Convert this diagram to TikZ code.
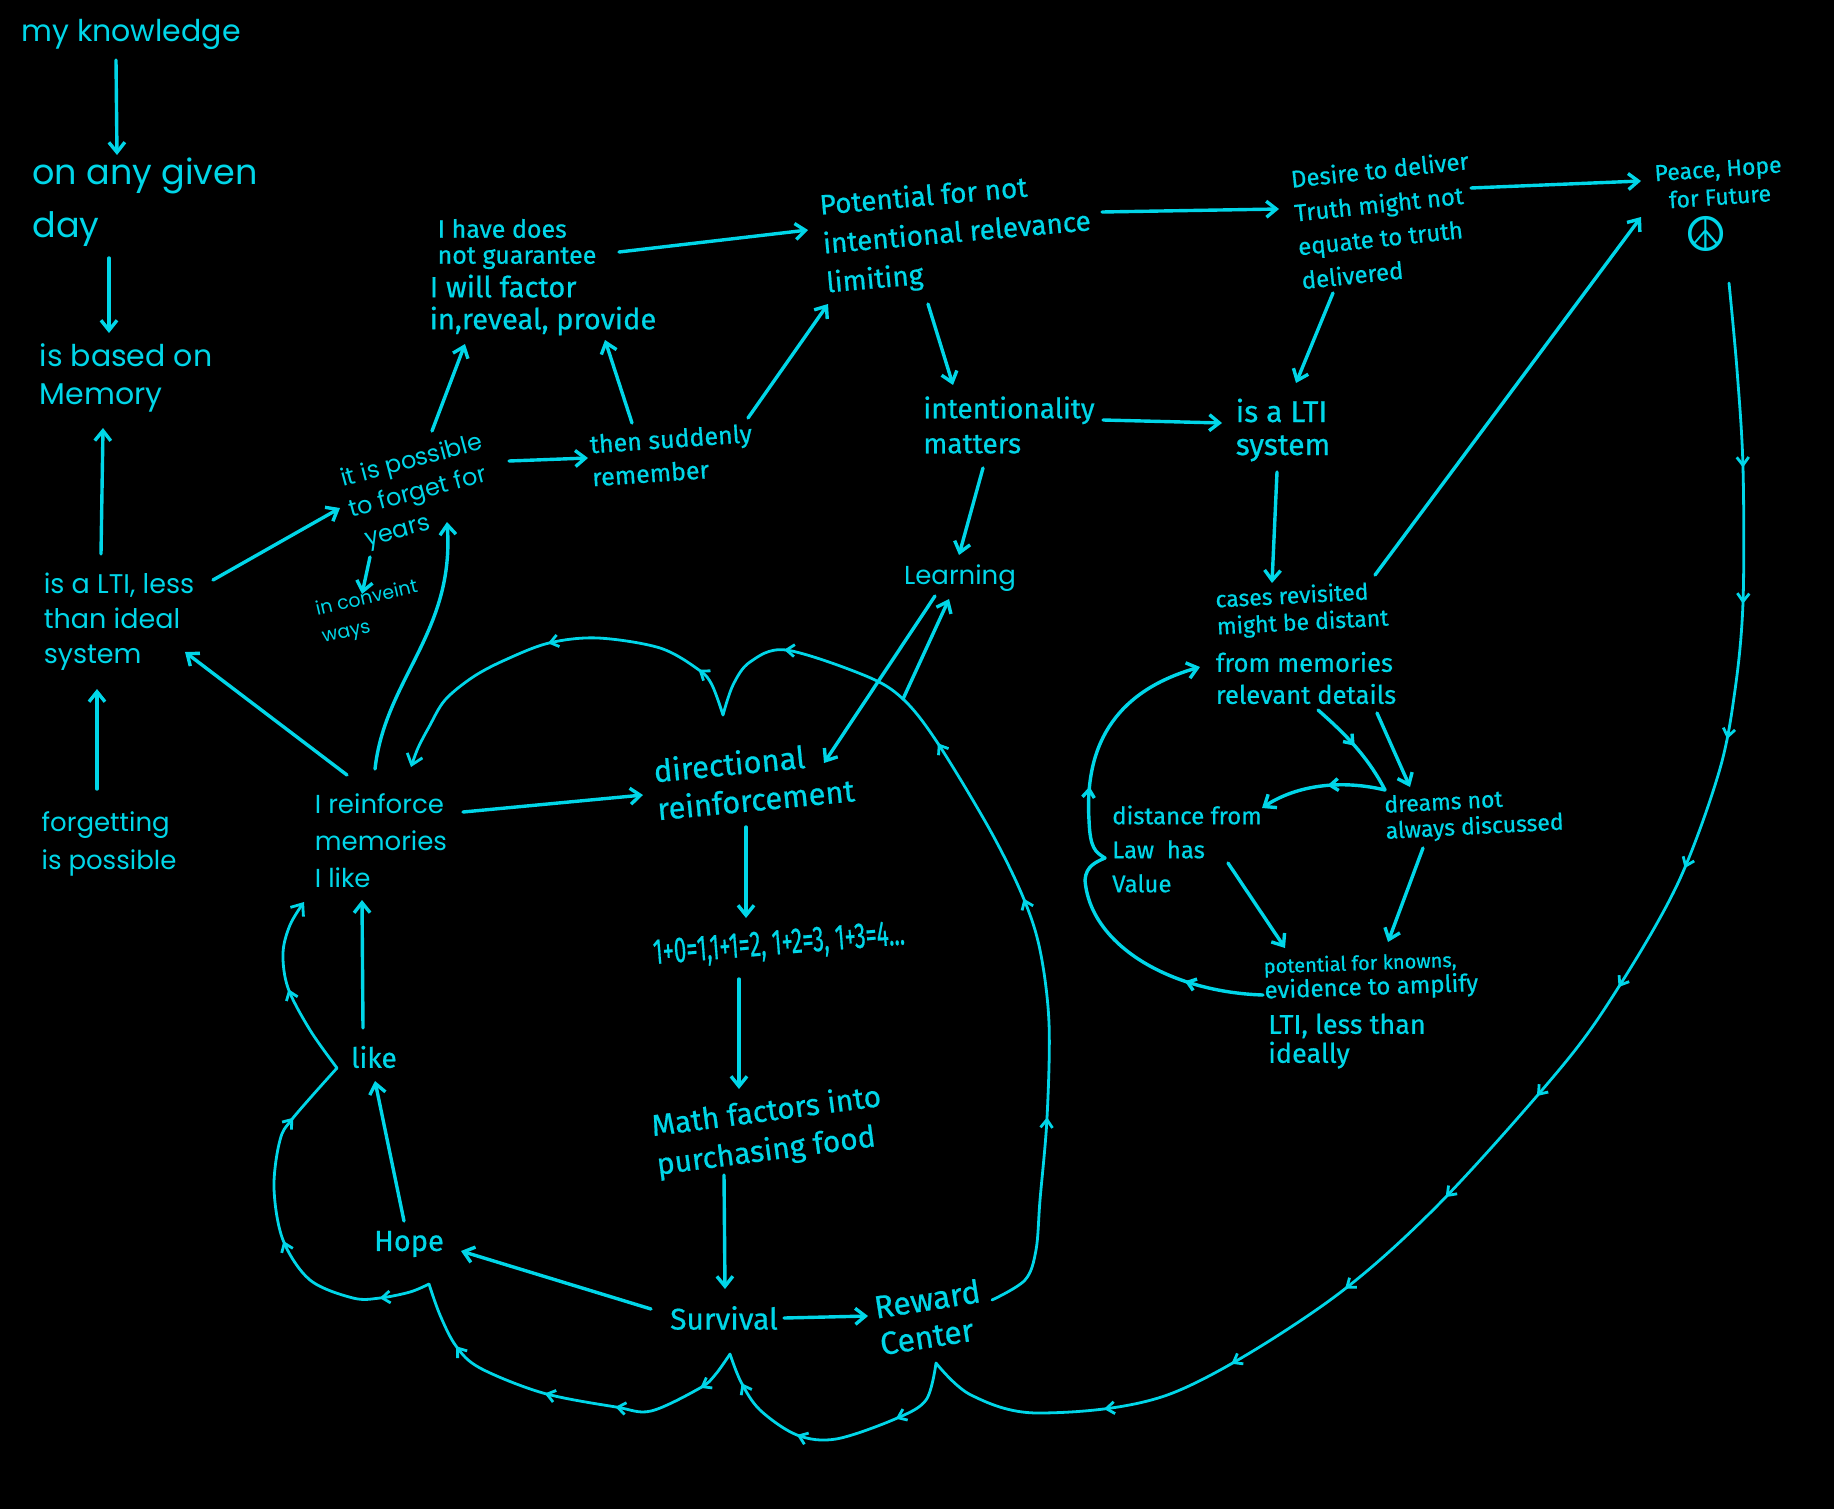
\documentclass[tikz,border=0pt]{standalone}
\usepackage{fontspec}
\setmainfont{Fira Sans}[FakeBold=0.6]
\newfontfamily\pop{Poppins}
\newfontfamily\dejavu{DejaVu Sans}
\usepackage{graphicx}
\usetikzlibrary{arrows.meta,decorations.markings}
\definecolor{cy}{RGB}{0,214,232}
\begin{document}
\begin{tikzpicture}[x=0.5pt,y=-0.5pt,
  tx/.style={text=cy, inner sep=0pt, align=left},
  fs/.style 2 args={font=\fontsize{#1}{#2}\selectfont},
  pf/.style 2 args={font=\pop\fontsize{#1}{#2}\selectfont},
  ln/.style={draw=cy, line width=1.7pt, line cap=round, line join=round, -{Straight Barb[length=5pt,width=8pt]}},
  cloudln/.style={draw=cy, line width=1.4pt, line cap=round, line join=round},
  tipend/.style={-{Straight Barb[length=5pt,width=8pt]}},
  ctip/.tip={Straight Barb[length=4pt,width=6pt]},
  mk/.style={postaction={decorate, decoration={markings, mark=at position #1 with {\arrow{ctip}}}}},
  mks/.style={postaction={decorate, decoration={markings, mark=between positions #1 with {\arrow{ctip}}}}}
]
\fill[black] (0,0) rectangle (1834,1509);
\useasboundingbox (0,0) rectangle (1834,1509);

% ---------- nodes ----------
\node[tx, pf={15}{18}] (know) at (131,34) {my knowledge};
\node[tx, pf={17.5}{26.5}] (day) at (145,202) {on any given\\day};
\node[tx, pf={15}{19}] (mem) at (126,378) {is based on\\Memory};
\node[tx, pf={13.5}{17.5}] (lti) at (119,622) {is a LTI, less\\than ideal\\system};
\node[tx, pf={13}{19}] (forg) at (109,844) {forgetting\\is possible};
\node[tx, pf={12}{16}, rotate=15] (itposs) at (420,493) {it is possible\\to forget for\\\hspace*{4pt}years};
\node[tx, pf={9.5}{14}, rotate=13] (conv) at (370,613) {in conveint\\ways};
\node[tx, pf={13}{18.5}] (reinf) at (381,841) {I reinforce\\memories\\I like};
\node[tx, pf={13}{15}] (learn) at (960,578) {Learning};

\node[tx, fs={12.5}{13}] (ihaveA) at (517,244) {I have does\\not guarantee};
\node[tx, fs={14.5}{16}] (ihave) at (543,305) {I will factor\\in,reveal, provide};
\node[tx, fs={12.5}{16.5}, rotate=4] (then) at (672,455) {then suddenly\\remember};
\node[tx, fs={14}{19.5}, rotate=5] (pot) at (957,234) {Potential for not\\intentional relevance\\limiting};
\node[tx, fs={14}{17.5}] (intm) at (1009,425) {intentionality\\matters};
\node[tx, fs={12}{17}, rotate=6] (desire) at (1385,220) {Desire to deliver\\Truth might not\\equate to truth\\delivered};
\node[tx, fs={11.5}{14}, align=center, rotate=4] (peace) at (1719,183) {Peace, Hope\\for Future};
\node[tx, font=\dejavu\fontsize{24}{24}\selectfont] (psym) at (1706,234) {☮};
\node[tx, fs={15}{16.5}] (islti) at (1283,430) {is a LTI\\system};
\node[tx, fs={11.5}{13.5}, rotate=3] (casesA) at (1302,610) {cases revisited\\might be distant};
\node[tx, fs={12.8}{16}] (cases) at (1306,678) {from memories\\relevant details};
\node[tx, fs={12}{17}] (dist) at (1187,849) {distance from\\Law \ has\\Value};
\node[tx, fs={11.5}{13}, rotate=3] (dreams) at (1474,815) {dreams not\\always discussed};
\node[tx, fs={12}{12.5}, rotate=2] (potkA) at (1371,977) {{\fontsize{10}{12}\selectfont potential for knowns,}\\evidence to amplify};
\node[tx, fs={13.5}{14.5}] (potkB) at (1347,1041) {LTI, less than\\ideally};

\node[tx, fs={15.5}{19}, rotate=5.5] (dir) at (754,780) {directional\\reinforcement};
\node[tx, rotate=4.5] (math1) at (779,945) {\scalebox{0.62}[1]{\fontsize{18}{18}\selectfont 1+0=1,1+1=2, 1+2=3, 1+3=4...}};
\node[tx, fs={15}{19.5}, rotate=7.5] (mathf) at (769,1132) {Math factors into\\purchasing food};
\node[tx, fs={14}{14}] (like) at (374,1057) {like};
\node[tx, fs={14.5}{14.5}] (hope) at (409,1244) {Hope};
\node[tx, fs={15}{15}] (surv) at (724,1318) {Survival};
\node[tx, fs={16}{18.5}, rotate=9] (reward) at (930,1317) {Reward\\Center};

% ---------- named points on curves ----------
\coordinate (cA) at (723,715);
\coordinate (clp) at (903,699);
\coordinate (cB1) at (936,1363);
\coordinate (cB2) at (730,1354);
\coordinate (cB3) at (429,1284);
\coordinate (cB4) at (337,1068);
\coordinate (cJ) at (1385,790);
\coordinate (cK1) at (1085,880);
\coordinate (cK2) at (1105,858);
\coordinate (cK3) at (1089,820);

% ---------- connectors ----------
\draw[ln] ([shift={(-15,26)}]know.center) -- ([shift={(-28,-47)}]day.center);
\draw[ln] ([shift={(-36,56)}]day.center) -- ([shift={(-17,-45)}]mem.center);
\draw[ln] ([shift={(-18,-68)}]lti.center) -- ([shift={(-23,50)}]mem.center);
\draw[ln] ([shift={(-12,-55)}]forg.center) -- ([shift={(-22,67)}]lti.center);
\draw[ln] ([shift={(-34,-66)}]reinf.center) -- ([shift={(66,30)}]lti.center);
\draw[ln] ([shift={(94,-42)}]lti.center) -- ([shift={(-80,15)}]itposs.center);
\draw[ln] ([shift={(12,-62)}]itposs.center) -- ([shift={(-78,39)}]ihave.center);
\draw[ln] ([shift={(89,-32)}]itposs.center) -- ([shift={(-84,3)}]then.center);
\draw[ln] ([shift={(-40,-32)}]then.center) -- ([shift={(62,35)}]ihave.center);
\draw[ln] ([shift={(76,-37)}]then.center) -- ([shift={(-129,70)}]pot.center);
\draw[ln] ([shift={(-50,64)}]itposs.center) -- ([shift={(-8,-19)}]conv.center);
\draw[ln] ([shift={(-6,-72)}]reinf.center) .. controls +(10,-90) and +(8,110) .. ([shift={(27,29)}]itposs.center);
\draw[ln] ([shift={(82,-29)}]reinf.center) -- ([shift={(-111,15)}]dir.center);
\draw[ln] ([shift={(-8,47)}]dir.center) -- ([shift={(-33,-27)}]math1.center);
\draw[ln] ([shift={(-40,34)}]math1.center) -- ([shift={(-30,-43)}]mathf.center);
\draw[ln] ([shift={(-45,43)}]mathf.center) -- ([shift={(1,-29)}]surv.center);
\draw[ln] ([shift={(-73,-9)}]surv.center) -- ([shift={(52,7)}]hope.center);
\draw[ln] ([shift={(60,0)}]surv.center) -- ([shift={(-62,-1)}]reward.center);
\draw[ln] ([shift={(-5,-23)}]hope.center) -- ([shift={(1,24)}]like.center);
\draw[ln] ([shift={(-11,-29)}]like.center) -- ([shift={(-19,59)}]reinf.center);
\draw[ln] ([shift={(102,8)}]ihaveA.center) -- ([shift={(-149,-4)}]pot.center);
\draw[ln] ([shift={(145,-22)}]pot.center) -- ([shift={(-106,-11)}]desire.center);
\draw[ln] ([shift={(86,-32)}]desire.center) -- ([shift={(-78,-2)}]peace.center);
\draw[ln] ([shift={(-29,70)}]pot.center) -- ([shift={(-56,-40)}]intm.center);
\draw[ln] ([shift={(94,-5)}]intm.center) -- ([shift={(-61,-7)}]islti.center);
\draw[ln] ([shift={(-52,73)}]desire.center) -- ([shift={(13,-47)}]islti.center);
\draw[ln] ([shift={(-26,43)}]intm.center) -- ([shift={(-1,-23)}]learn.center);
\draw[ln] ([shift={(-6,42)}]islti.center) -- ([shift={(-30,-27)}]casesA.center);
\draw[ln] ([shift={(73,-35)}]casesA.center) -- ([shift={(-78,34)}]peace.center);
\draw[ln] ([shift={(-25,18)}]learn.center) -- ([shift={(70,-17)}]dir.center);
\draw[ln] (clp) -- ([shift={(-11,21)}]learn.center);

% right-hand loop
\draw[ln] ([shift={(71,35)}]cases.center) -- ([shift={(-64,-28)}]dreams.center);
\draw[ln, mk=0.22, mk=0.7] ([shift={(12,32)}]cases.center) .. controls +(25,22) and +(-18,-35) .. (cJ) .. controls +(-50,-12) and +(30,-20) .. ([shift={(75,-41)}]dist.center);
\draw[ln] ([shift={(41,14)}]dist.center) -- ([shift={(-86,-29)}]potkA.center);
\draw[ln] ([shift={(-51,33)}]dreams.center) -- ([shift={(17,-35)}]potkA.center);
\draw[ln, mk=0.155, mk=0.66] ([shift={(-108,18)}]potkA.center) .. controls +(-93,-3) and +(5,65) .. (cK1) .. controls +(1,-14) and +(-9,4) .. (cK2) .. controls +(-10,-6) and +(1,28) .. (cK3) .. controls +(-5,-80) and +(-80,23) .. ([shift={(-106,-11)}]cases.center);

% ---------- cloud ----------
\draw[cloudln, mk=0.23, mk=0.48, mk=0.68, mk=0.89] plot[smooth,tension=0.55] coordinates {([shift={(62,-17)}]reward.center) (1025,1280) (1036,1250) (1040,1200) (1047,1118) (1049,1023) (1040,950) (1023,897) (990,830) (937,742) (clp) (866,676) (786,650) (750,662) (733,685) (cA)};
\draw[cloudln, tipend, mk=0.13, mk=0.52] plot[smooth,tension=0.55] coordinates {(cA) (712,685) (699,670) (660,648) (598,638) (549,643) (505,660) (473,677) (445,700) (429,727) (418,748) ([shift={(30,-74)}]reinf.center)};

\draw[cloudln, mks={0.116 and 0.97 step 0.0854}] plot[smooth,tension=0.55] coordinates {([shift={(10,100)}]peace.center) (1737,370) (1743,468) (1743,602) (1735,690) (1719,772) (1678,883) (1618,988) (1559,1070) (1432,1211) (1319,1308) (1170,1394) (1039,1413) (971,1395) (cB1)};
\draw[cloudln, mk=0.26, mk=0.62, mk=0.89] plot[smooth,tension=0.55] coordinates {(cB1) (926,1400) (895,1419) (836,1439) (797,1435) (760,1410) (741,1382) (cB2)};
\draw[cloudln, mk=0.12, mk=0.36, mk=0.55, mk=0.82] plot[smooth,tension=0.55] coordinates {(cB2) (715,1375) (700,1388) (651,1411) (616,1407) (543,1393) (480,1368) (456,1346) (440,1315) (cB3)};
\draw[cloudln, mk=0.14, mk=0.47, mk=0.82] plot[smooth,tension=0.55] coordinates {(cB3) (410,1292) (380,1298) (353,1298) (310,1280) (283,1240) (274,1188) (280,1140) (293,1118) (cB4)};
\draw[cloudln, tipend, mk=0.5] plot[smooth,tension=0.55] coordinates {(cB4) (310,1030) (288,988) (283,953) (290,925) ([shift={(-77,61)}]reinf.center)};
\end{tikzpicture}
\end{document}
